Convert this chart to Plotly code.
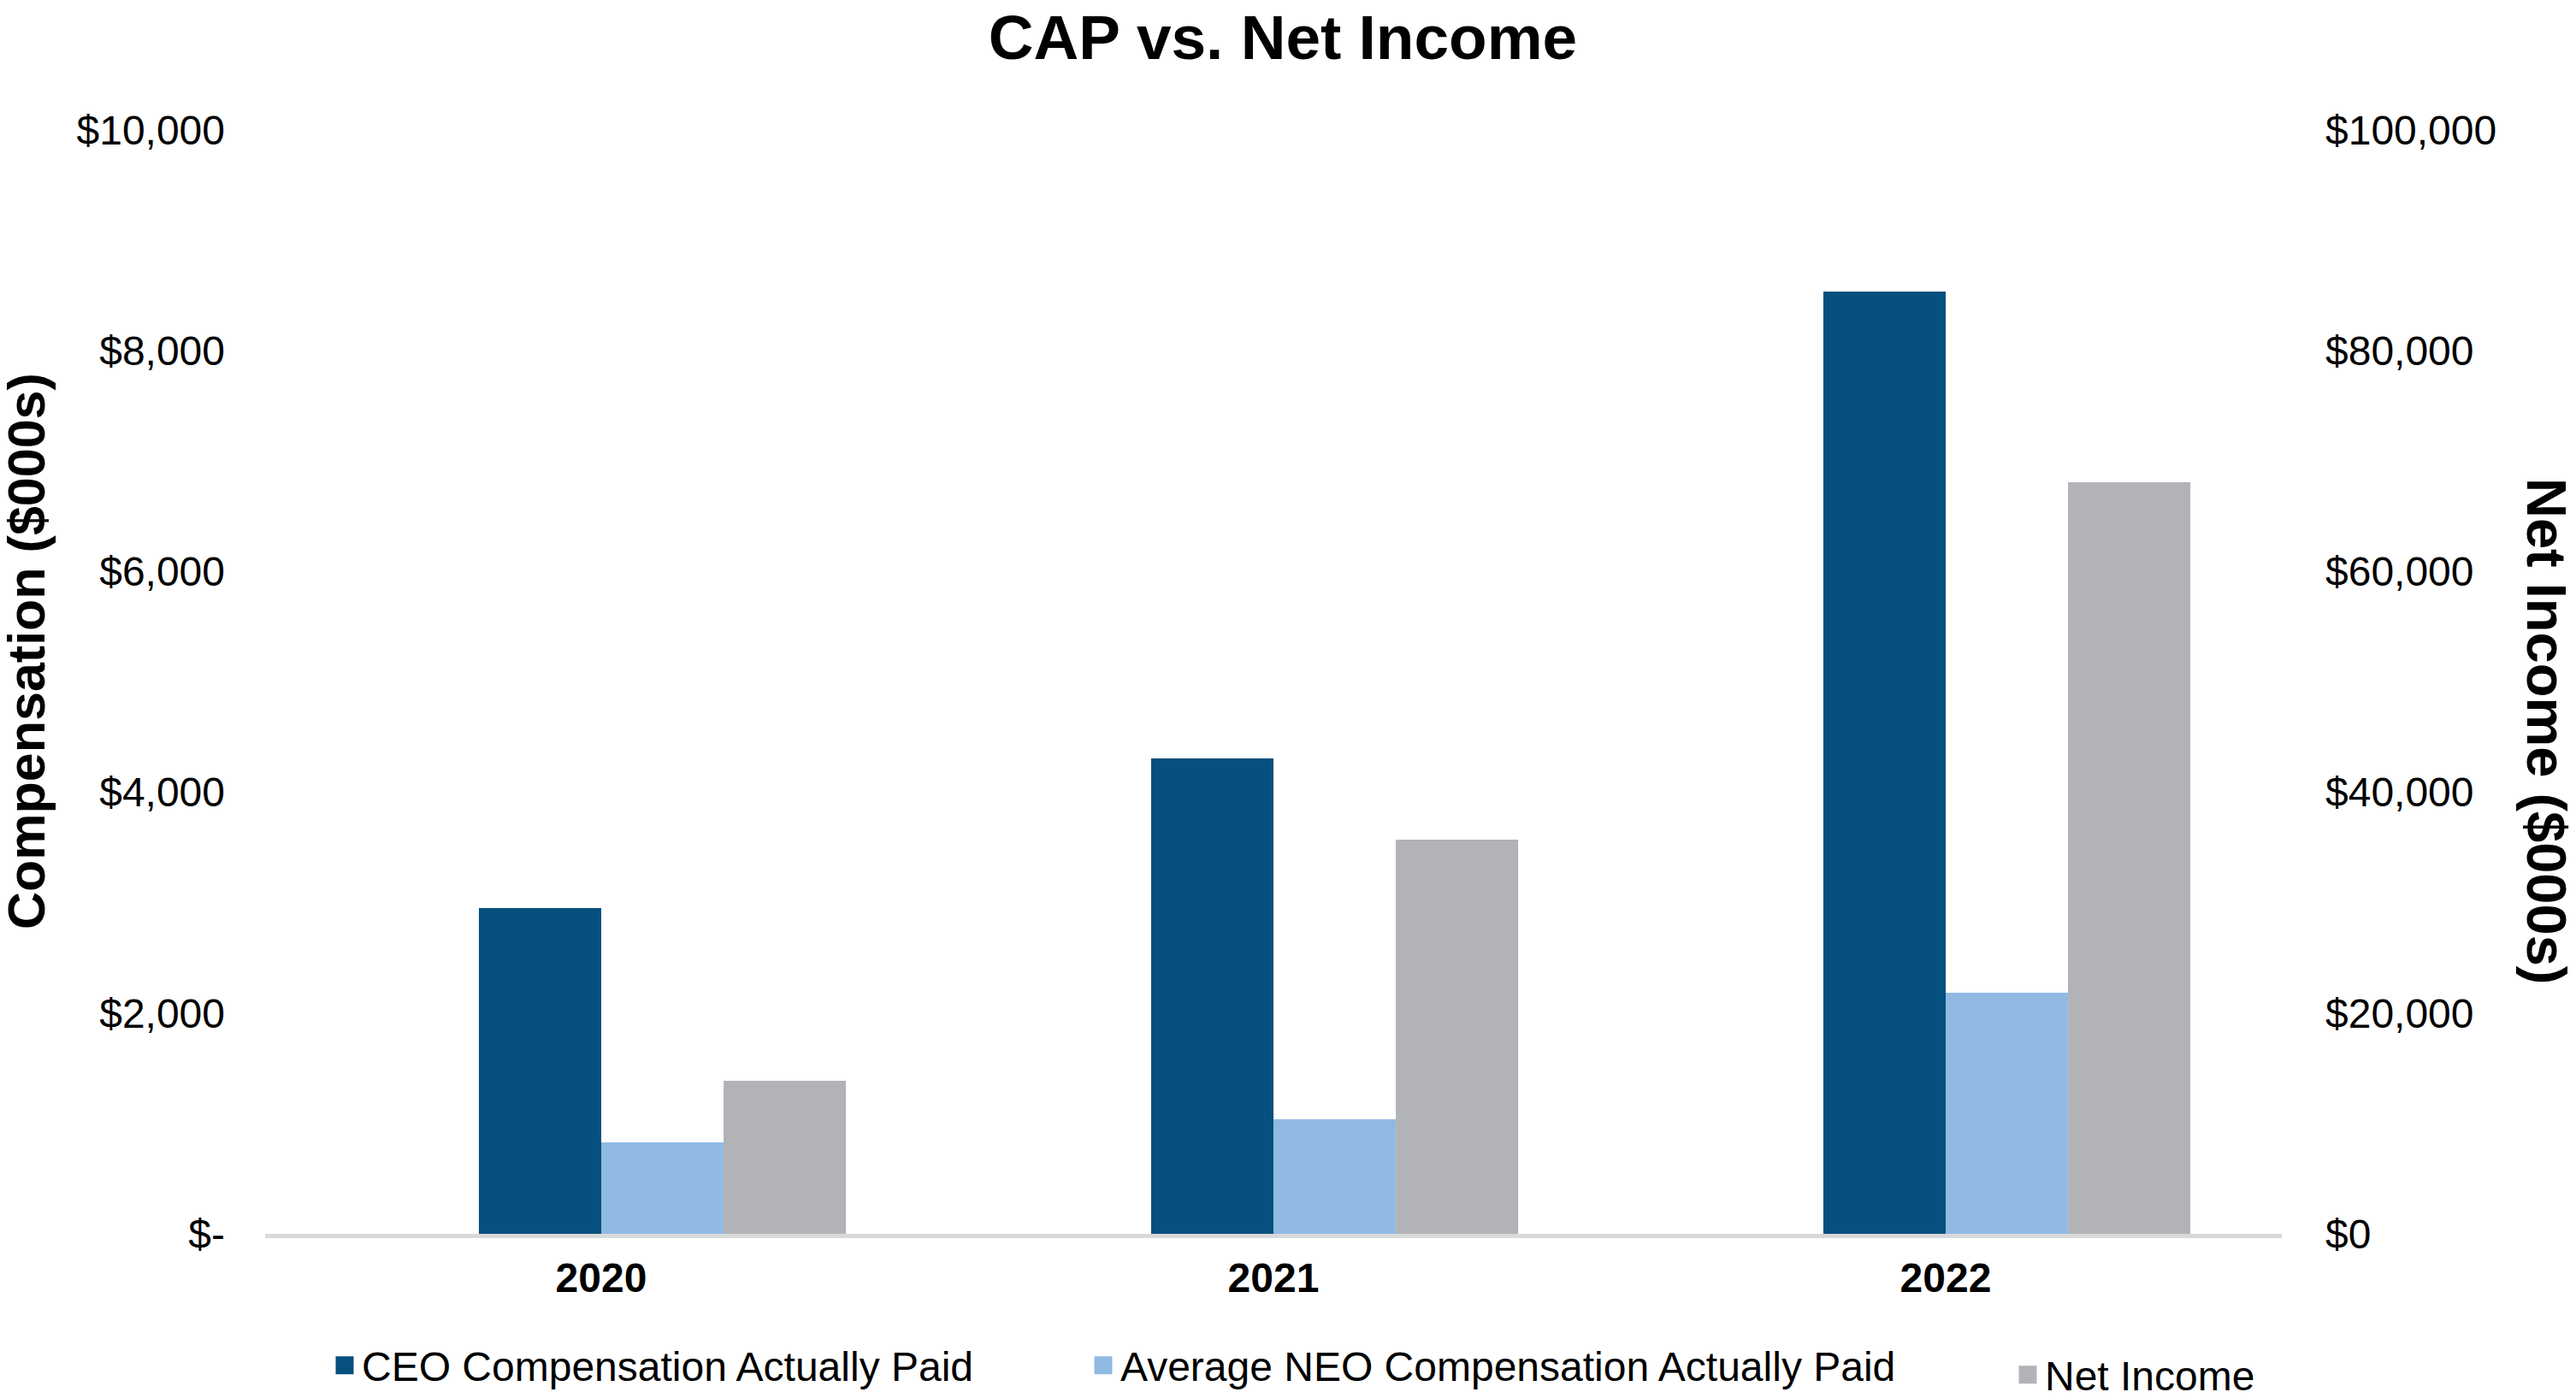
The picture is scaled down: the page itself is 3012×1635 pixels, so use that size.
import plotly.graph_objects as go

# ---------------- data ----------------
years = ["2020", "2021", "2022"]
ceo_cap = [2951, 4307, 8536]          # $000s
neo_cap = [829, 1038, 2184]           # $000s
net_income = [13865, 35709, 68087]    # $000s

left_tickvals = [0, 2000, 4000, 6000, 8000, 10000]
left_ticktext = ["$-", "$2,000", "$4,000", "$6,000", "$8,000", "$10,000"]
right_tickvals = [0, 20000, 40000, 60000, 80000, 100000]
right_ticktext = ["$0", "$20,000", "$40,000", "$60,000", "$80,000", "$100,000"]

series_names = ["CEO Compensation Actually Paid",
                "Average NEO Compensation Actually Paid",
                "Net Income"]
colors = ["#05507F", "#91BAE3", "#B2B3B7"]

title_text = "CAP vs. Net Income"
left_title = "Compensation ($000s)"
right_title = "Net Income ($000s)"

# ---------------- layout geometry (page pixel targets) ----------------
OFF = 8                      # default page body margin
PAGE_W, PAGE_H = 3012, 1635
W, H = PAGE_W - OFF, PAGE_H - OFF
PLOT_LEFT, PLOT_RIGHT, PLOT_TOP, PLOT_BOTTOM = 310, 2668, 152, 1443
L = PLOT_LEFT - OFF
T = PLOT_TOP - OFF
R = W - (PLOT_RIGHT - OFF)
B = H - (PLOT_BOTTOM - OFF)
PW, PH = PLOT_RIGHT - PLOT_LEFT, PLOT_BOTTOM - PLOT_TOP
FONT = "Liberation Sans, Arial, sans-serif"


def px_x(x):
    return (x - PLOT_LEFT) / PW


def px_y(y):
    return (PLOT_BOTTOM - y) / PH


bw = 0.182  # bar width in category units

fig = go.Figure()
fig.add_bar(x=years, y=ceo_cap, width=bw, offset=-bw, marker=dict(color=colors[0], line=dict(width=0)),
            name=series_names[0], showlegend=False, yaxis="y")
fig.add_bar(x=years, y=neo_cap, width=bw, offset=0, marker=dict(color=colors[1], line=dict(width=0)),
            name=series_names[1], showlegend=False, yaxis="y")
fig.add_bar(x=years, y=net_income, width=bw, offset=bw, marker=dict(color=colors[2], line=dict(width=0)),
            name=series_names[2], showlegend=False, yaxis="y2")

# legend entries (one legend each so they can be placed like the original)
legend_ids = ["legend", "legend2", "legend3"]
for name, c, lg in zip(series_names, colors, legend_ids):
    fig.add_scatter(x=[None], y=[None], mode="markers",
                    marker=dict(symbol="square", size=16, color=c, line=dict(width=5, color=c)),
                    name=name, legend=lg, showlegend=True, hoverinfo="skip")

legend_common = dict(orientation="h", xanchor="left", yanchor="middle",
                     font=dict(family=FONT, size=48, color="black"),
                     bgcolor="rgba(0,0,0,0)", borderwidth=0)
text_starts = [427, 1314, 2395]
text_ys = [1597, 1597, 1608]

fig.update_layout(
    width=W, height=H,
    margin=dict(l=L, r=R, t=T, b=B, autoexpand=False),
    paper_bgcolor="white", plot_bgcolor="white",
    barmode="overlay",
    font=dict(family=FONT, color="black", size=48),
    title=dict(text=title_text, xref="container", x=(1500 - OFF) / W, xanchor="center",
               yref="container", y=1 - (43 - OFF) / H, yanchor="middle",
               font=dict(family=FONT, size=73, color="black", weight="bold")),
    xaxis=dict(type="category", range=[-0.5, 2.5], showgrid=False, zeroline=False,
               showline=True, linecolor="#D9D9D9", linewidth=5, ticks="",
               tickfont=dict(family=FONT, size=48, color="black", weight="bold"),
               ticklabelstandoff=5),
    yaxis=dict(range=[0, 10000], tickmode="array", tickvals=left_tickvals, ticktext=left_ticktext,
               showgrid=False, zeroline=False, showline=False, ticks="",
               tickfont=dict(family=FONT, size=48, color="black"), ticklabelstandoff=46),
    yaxis2=dict(range=[0, 100000], tickmode="array", tickvals=right_tickvals, ticktext=right_ticktext,
                overlaying="y", side="right", showgrid=False, zeroline=False, showline=False, ticks="",
                tickfont=dict(family=FONT, size=48, color="black"), ticklabelstandoff=50),
    legend=dict(legend_common, x=px_x(text_starts[0] - 44), y=px_y(text_ys[0])),
    legend2=dict(legend_common, x=px_x(text_starts[1] - 44), y=px_y(text_ys[1])),
    legend3=dict(legend_common, x=px_x(text_starts[2] - 44), y=px_y(text_ys[2])),
    annotations=[
        dict(text=left_title, xref="paper", yref="paper", x=px_x(31), y=px_y(762),
             xanchor="center", yanchor="middle", textangle=-90, showarrow=False,
             font=dict(family=FONT, size=61, color="black", weight="bold")),
        dict(text=right_title, xref="paper", yref="paper", x=px_x(2978), y=px_y(855),
             xanchor="center", yanchor="middle", textangle=90, showarrow=False,
             font=dict(family=FONT, size=65, color="black", weight="bold")),
    ],
)

fig.write_html("out.html")
